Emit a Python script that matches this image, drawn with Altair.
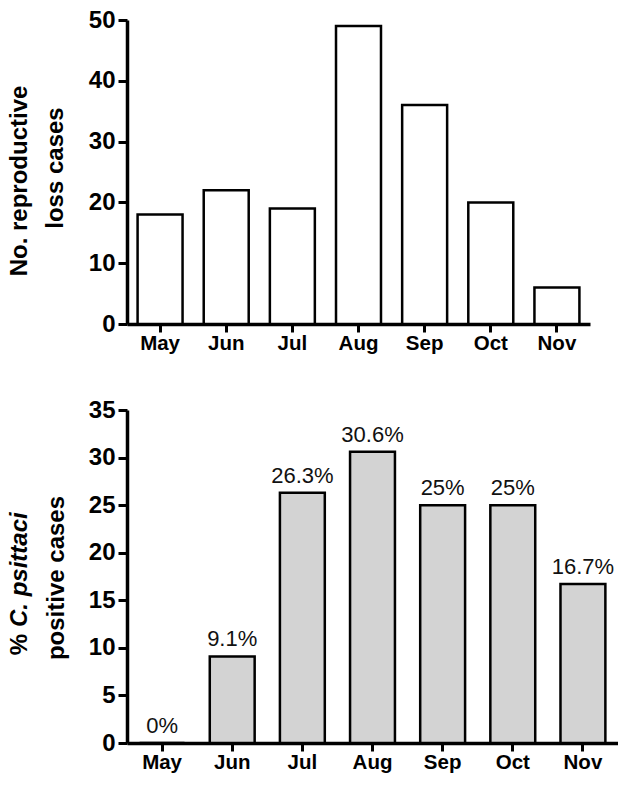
import altair as alt
import pandas as pd

months = ["May", "Jun", "Jul", "Aug", "Sep", "Oct", "Nov"]
loss_cases = [18, 22, 19, 49, 36, 20, 6]
pct_positive = [0, 9.1, 26.3, 30.6, 25, 25, 16.7]
pct_labels = [f"{v:g}%" for v in pct_positive]

FONT = "Liberation Sans"
W1, H1 = 463, 304
W2, H2 = 491, 333

top_df = pd.DataFrame({"month": months, "cases": loss_cases})
bot_df = pd.DataFrame({"month": months, "pct": pct_positive, "label": pct_labels})


def x_axis():
    return alt.Axis(title=None, labelAngle=0, labelFont=FONT, labelFontSize=20.5,
                    labelFontWeight="bold", labelColor="black", domainColor="black",
                    domainWidth=3.5, tickColor="black", tickWidth=3, tickSize=8,
                    labelPadding=1, grid=False)


def y_axis(values):
    return alt.Axis(title=None, values=values, labelFont=FONT, labelFontSize=24,
                    labelFontWeight="bold", labelColor="black", domainColor="black",
                    domainWidth=3.5, tickColor="black", tickWidth=3, tickSize=9,
                    labelPadding=3, grid=False)


def title_text(text, x, y, style="normal", align="center"):
    return alt.Chart(alt.Data(values=[{}])).mark_text(
        text=text, angle=270, font=FONT, fontSize=24, fontWeight="bold",
        fontStyle=style, align=align, baseline="middle", color="black"
    ).encode(x=alt.value(x), y=alt.value(y))


top_bars = alt.Chart(top_df).mark_bar(fill="white", stroke="black", strokeWidth=2.5).encode(
    x=alt.X("month:N", sort=months,
            scale=alt.Scale(paddingInner=0.32, paddingOuter=0.16), axis=x_axis()),
    y=alt.Y("cases:Q", scale=alt.Scale(domain=[0, 50], nice=False),
            axis=y_axis([0, 10, 20, 30, 40, 50])),
)

top = alt.layer(
    top_bars,
    title_text("No. reproductive", -107, 161),
    title_text("loss cases", -71, 148),
).properties(width=W1, height=H1)

bot_bars = alt.Chart(bot_df).mark_bar(fill="#d3d3d3", stroke="black", strokeWidth=2.5).encode(
    x=alt.X("month:N", sort=months,
            scale=alt.Scale(paddingInner=0.36, paddingOuter=0.18), axis=x_axis()),
    y=alt.Y("pct:Q", scale=alt.Scale(domain=[0, 35], nice=False),
            axis=y_axis([0, 5, 10, 15, 20, 25, 30, 35])),
)

bot_labels = alt.Chart(bot_df).mark_text(
    font=FONT, fontSize=22, baseline="alphabetic", dy=-10, color="#111111"
).encode(
    x=alt.X("month:N", sort=months),
    y=alt.Y("pct:Q"),
    text="label:N",
)

bot = alt.layer(
    bot_bars,
    bot_labels,
    title_text("%", -107, 224, align="right"),
    title_text("C. psittaci", -107, 217, style="italic", align="left"),
    title_text("positive cases", -70, 168),
).properties(width=W2, height=H2)

chart = alt.vconcat(top, bot, spacing=44).properties(
    padding={"left": 0, "top": 0, "right": 0, "bottom": 0}
).configure_view(stroke=None)

chart.save("out.html", embed_options={"renderer": "svg", "actions": False})
